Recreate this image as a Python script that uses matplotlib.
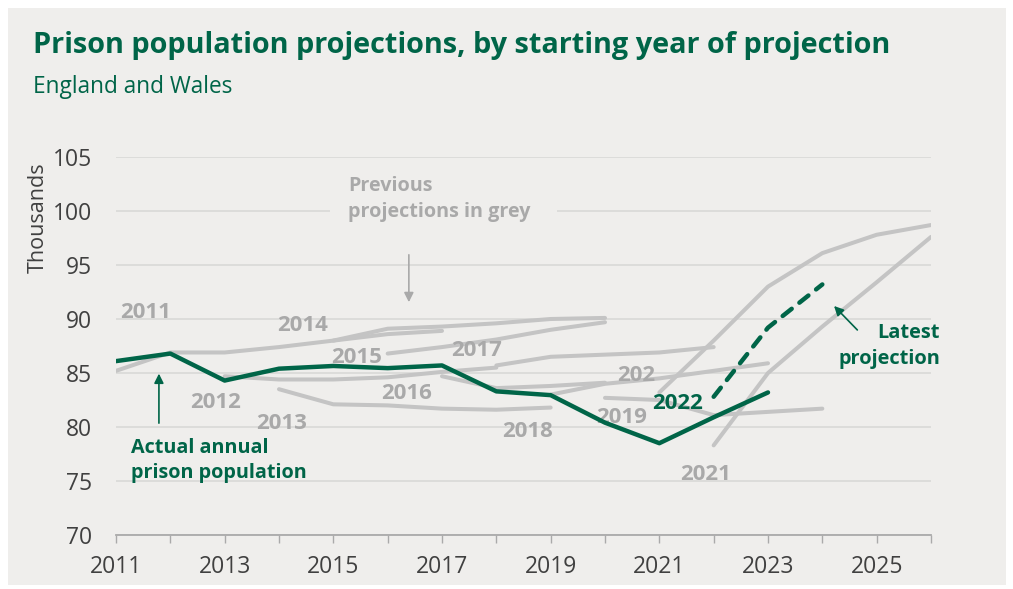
import matplotlib.pyplot as plt
from matplotlib.patches import Rectangle

# --- datos ---
years_actual = [2011, 2012, 2013, 2014, 2015, 2016, 2017, 2018, 2019, 2020, 2021, 2022, 2023]
actual = [86.1, 86.8, 84.3, 85.4, 85.65, 85.45, 85.7, 83.3, 82.95, 80.4, 78.5, 80.9, 83.2]

# proyecciones anteriores (año inicial del trazo, valores)
proj_2011 = [85.2, 86.9, 86.9, 87.4, 88.0, 88.6, 88.9]      # 2011-2017
proj_2012 = [84.7, 84.4, 84.4, 84.6, 85.1, 85.5]            # 2013-2018
proj_2013 = [83.5, 82.1, 82.0, 81.7, 81.6, 81.8]            # 2014-2019
proj_2014 = [88.0, 89.1, 89.3, 89.6, 90.0, 90.1]            # 2015-2020
proj_2015 = [86.8, 87.4, 88.1, 89.0, 89.7]                  # 2016-2020
proj_2016 = [84.7, 83.6, 83.8, 84.1]                        # 2017-2020
proj_2017 = [85.7, 86.5, 86.7, 86.9, 87.4]                  # 2018-2022
proj_2018 = [83.0, 84.0, 84.5, 85.2, 85.9]                  # 2019-2023
proj_2019 = [82.7, 82.5, 81.1, 81.4, 81.7]                  # 2020-2024
proj_2020 = [83.2, 88.0, 93.0, 96.1, 97.8, 98.7]            # 2021-2026
proj_2021 = [78.3, 85.0, 89.3, 93.4, 97.6]                  # 2022-2026

grey_projs = [(2011, proj_2011), (2013, proj_2012), (2014, proj_2013), (2015, proj_2014),
              (2016, proj_2015), (2017, proj_2016), (2018, proj_2017), (2019, proj_2018),
              (2020, proj_2019), (2021, proj_2020), (2022, proj_2021)]

years_latest = [2022, 2023, 2024]
latest = [82.8, 89.2, 93.2]

GREEN = '#006548'
GREY_LINE = '#c4c4c4'
GREY_TXT = '#a9a9a9'
BG = '#efeeec'

plt.rcParams['font.family'] = ['Open Sans', 'DejaVu Sans']

fig = plt.figure(figsize=(10.13, 5.89), dpi=100, facecolor='white')
fig.patches.append(Rectangle((8 / 1013, 4 / 589), 998 / 1013, 577 / 589,
                             transform=fig.transFigure, facecolor=BG, edgecolor='none', zorder=-10))

ax = fig.add_axes([116 / 1013, 54 / 589, 815 / 1013, 378 / 589])
ax.set_facecolor('none')
ax.set_xlim(2011, 2026)
ax.set_ylim(70, 105)

for start, vals in grey_projs:
    ax.plot(range(start, start + len(vals)), vals, color=GREY_LINE, lw=2.9,
            solid_capstyle='round', solid_joinstyle='round', zorder=3)

ax.plot(years_actual, actual, color=GREEN, lw=3.2, solid_capstyle='round', zorder=5)
ax.plot(years_latest, latest, color=GREEN, lw=3.2, ls=(0, (2.6, 2.2)),
        dash_capstyle='round', zorder=5)

# ejes
ax.set_yticks([70, 75, 80, 85, 90, 95, 100, 105])
ax.grid(axis='y', color='#d9d9d7', lw=1.2, zorder=1)
ax.set_xticks(range(2011, 2027))
ax.set_xticklabels([str(y) if y % 2 == 1 else '' for y in range(2011, 2027)])
for s in ['top', 'right', 'left']:
    ax.spines[s].set_visible(False)
ax.spines['bottom'].set_color('#aaaaaa')
ax.spines['bottom'].set_linewidth(1.3)
ax.tick_params(axis='y', length=0, pad=17, labelsize=16.5, labelcolor='#404040')
ax.tick_params(axis='x', length=5.5, width=1, color='#aaaaaa', pad=9, labelsize=16.5,
               labelcolor='#404040')
ax.set_ylabel('Thousands', fontsize=15.5, color='#404040')
ax.yaxis.set_label_coords(-0.083, 0.84)

# etiquetas de las proyecciones
lab = dict(color=GREY_TXT, fontsize=16, fontweight='bold', ha='center', va='center', zorder=4)
ax.text(2011.55, 90.56, '2011', **lab)
ax.text(2012.84, 82.31, '2012', **lab)
ax.text(2014.04, 80.37, '2013', **lab)
ax.text(2014.44, 89.44, '2014', **lab)
ax.text(2015.42, 86.48, '2015', **lab)
ax.text(2016.34, 83.06, '2016', **lab)
ax.text(2017.64, 87.04, '2017', **lab)
ax.text(2018.58, 79.54, '2018', **lab)
ax.text(2020.30, 80.9, '2019', **lab)
ax.text(2020.57, 84.8, '202', **lab)
ax.text(2021.86, 75.56, '2021', **lab)
ax.text(2021.34, 82.2, '2022', color=GREEN, fontsize=16, fontweight='bold',
        ha='center', va='center', zorder=6)

# anotaciones
ax.add_patch(Rectangle((2014.94, 99.0), 4.18, 2.0, facecolor=BG, edgecolor='none', zorder=2))
ax.text(2015.27, 101.1, 'Previous\nprojections in grey', color=GREY_TXT, fontsize=14.2,
        fontweight='bold', ha='left', va='center', linespacing=1.35, zorder=4)
ax.annotate('', xy=(2016.39, 91.3), xytext=(2016.39, 96.2),
            arrowprops=dict(arrowstyle='-|>', color='#a9a9a9', lw=1.2, mutation_scale=14))

ax.text(2011.28, 76.9, 'Actual annual\nprison population', color=GREEN, fontsize=14.2,
        fontweight='bold', ha='left', va='center', linespacing=1.35, zorder=6)
ax.annotate('', xy=(2011.79, 85.2), xytext=(2011.79, 80.1),
            arrowprops=dict(arrowstyle='-|>', color=GREEN, lw=1.2, mutation_scale=14))

ax.text(2026.17, 87.5, 'Latest\nprojection', color=GREEN, fontsize=14.4,
        fontweight='bold', ha='right', va='center', linespacing=1.35, zorder=6)
ax.annotate('', xy=(2024.18, 91.39), xytext=(2024.68, 88.8),
            arrowprops=dict(arrowstyle='-|>', color=GREEN, lw=1.2, mutation_scale=14))

# títulos
fig.text(33 / 1013, 1 - 45 / 589, 'Prison population projections, by starting year of projection',
         color=GREEN, fontsize=20.8, fontweight='bold', ha='left', va='center')
fig.text(33 / 1013, 1 - 87 / 589, 'England and Wales', color=GREEN, fontsize=16.3,
         ha='left', va='center')

fig.savefig('out.png', dpi=100, facecolor=fig.get_facecolor())
